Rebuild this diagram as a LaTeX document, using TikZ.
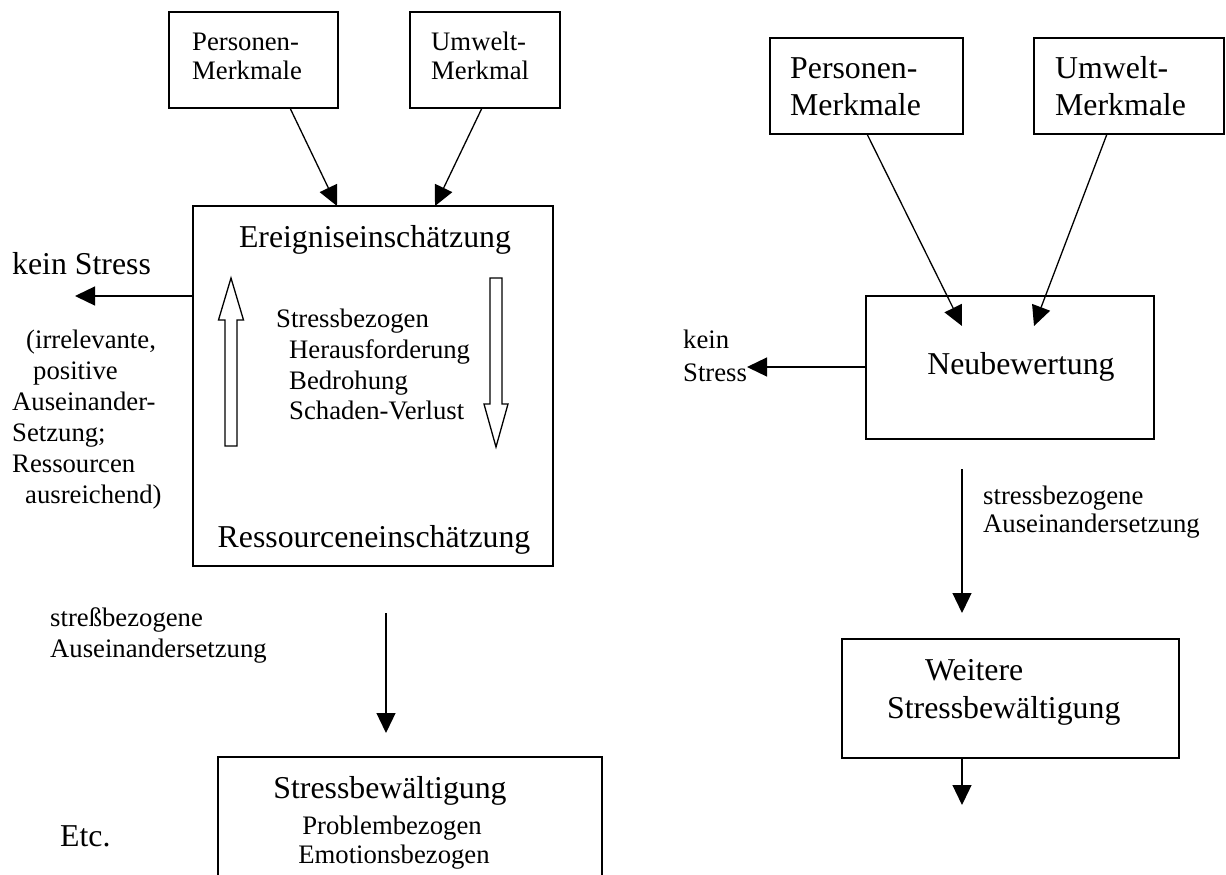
\documentclass[tikz,border=0pt]{standalone}
\usepackage{fontspec}
\setmainfont{Liberation Serif}
\usetikzlibrary{arrows.meta}
\begin{document}
\begin{tikzpicture}[x=1pt,y=-1pt,
  box/.style={draw, line width=1.5pt, inner sep=0pt, outer sep=0pt},
  ts/.style={inner sep=0pt, anchor=base west, font=\fontsize{26.7}{31}\selectfont},
  tl/.style={inner sep=0pt, anchor=base west, font=\fontsize{31.8}{37}\selectfont},
  tsc/.style={ts, anchor=base},
  tlc/.style={tl, anchor=base},
  arr/.style={line width=1.3pt, -{Triangle[length=20pt,width=19pt]}},
  hollow/.style={draw, line width=1.3pt, fill=white, line join=miter}
]
\useasboundingbox (0,0) rectangle (1226,875);
\clip (0,0) rectangle (1226,875);

% ---------- left diagram ----------
\node[box, minimum width=169pt, minimum height=96pt] (P1) at (253.5,60) {};
\node[box, minimum width=150pt, minimum height=96pt] (U1) at (485,60) {};
\node[box, minimum width=360pt, minimum height=360pt] (E) at (373,386) {};
\node[box, minimum width=384pt, minimum height=143pt] (S) at (410,828.5) {};

\node[ts] (p1a) at (192,51) {Personen-};
\node[ts] (p1b) at (192,80) {Merkmale};
\node[ts] (u1a) at (431,51) {Umwelt-};
\node[ts] (u1b) at (431,80) {Merkmal};

\node[tlc] (e1) at (375,247) {Ereigniseinschätzung};
\node[tlc] (e2) at (374,547) {Ressourceneinschätzung};
\node[ts] (e3) at (276,327) {Stressbezogen};
\node[ts] (e4) at (289,358) {Herausforderung};
\node[ts] (e5) at (289,389) {Bedrohung};
\node[ts] (e6) at (289,419) {Schaden-Verlust};

\node[tl] (kl) at (12,274) {kein Stress};
\node[ts] (r1) at (26,348) {(irrelevante,};
\node[ts] (r2) at (33,379) {positive};
\node[ts] (r3) at (12,410) {Auseinander-};
\node[ts] (r4) at (12,441) {Setzung;};
\node[ts] (r5) at (12,472) {Ressourcen};
\node[ts] (r6) at (25,503) {ausreichend)};

\node[ts] (l1) at (50,626) {streßbezogene};
\node[ts] (l2) at (50,657) {Auseinandersetzung};

\node[tlc] (s1) at (390,798) {Stressbewältigung};
\node[tsc] (s2) at (392,834) {Problembezogen};
\node[tsc] (s3) at (394,863) {Emotionsbezogen};
\node[tl] (etc) at (60,846) {Etc.};

\coordinate (kL) at (75,296);
\coordinate (a1) at (386,613);
\coordinate (a2) at (386,733);

\draw[arr] ([xshift=121pt]P1.south west) -- ([xshift=144pt]E.north west);
\draw[arr] ([xshift=72pt]U1.south west) -- ([xshift=242pt]E.north west);
\draw[arr] ([yshift=-90pt]E.north west) -- (kL);
\draw[arr] (a1) -- (a2);

% hollow block arrows
\draw[hollow] (225,446) -- (225,320) -- (218.5,320) -- (231,278) -- (243.5,320) -- (237,320) -- (237,446) -- cycle;
\draw[hollow] (490,278) -- (490,404) -- (484,404) -- (496,447) -- (508,404) -- (502,404) -- (502,278) -- cycle;

% ---------- right diagram ----------
\node[box, minimum width=193pt, minimum height=96pt] (P2) at (866.5,86) {};
\node[box, minimum width=190pt, minimum height=96pt] (U2) at (1129,86) {};
\node[box, minimum width=288pt, minimum height=143pt] (N) at (1010,367.5) {};
\node[box, minimum width=337pt, minimum height=119pt] (W) at (1010.5,698.5) {};

\node[tl] (p2a) at (790,78) {Personen-};
\node[tl] (p2b) at (790,115) {Merkmale};
\node[tl] (u2a) at (1055,78) {Umwelt-};
\node[tl] (u2b) at (1055,115) {Merkmale};

\node[tlc] (n1) at (1021,374) {Neubewertung};
\node[ts] (kr1) at (683,348) {kein};
\node[ts] (kr2) at (683,381) {Stress};

\node[ts] (b1) at (983,504) {stressbezogene};
\node[ts] (b2) at (983,532) {Auseinandersetzung};

\node[tl] (w1) at (925,680) {Weitere};
\node[tl] (w2) at (887,718) {Stressbewältigung};

\coordinate (kR) at (747,367);
\coordinate (wo) at (962,805);

\draw[arr] ([xshift=97pt]P2.south west) -- ([xshift=96pt,yshift=-30pt]N.north west);
\draw[arr] ([xshift=73pt]U2.south west) -- ([xshift=168pt,yshift=-30pt]N.north west);
\draw[arr] ([yshift=-71pt]N.north west) -- (kR);
\draw[arr] ([xshift=96pt,yshift=-30pt]N.south west) -- ([xshift=120pt,yshift=26pt]W.north west);
\draw[arr] ([xshift=120pt]W.south west) -- (wo);
\end{tikzpicture}
\end{document}
